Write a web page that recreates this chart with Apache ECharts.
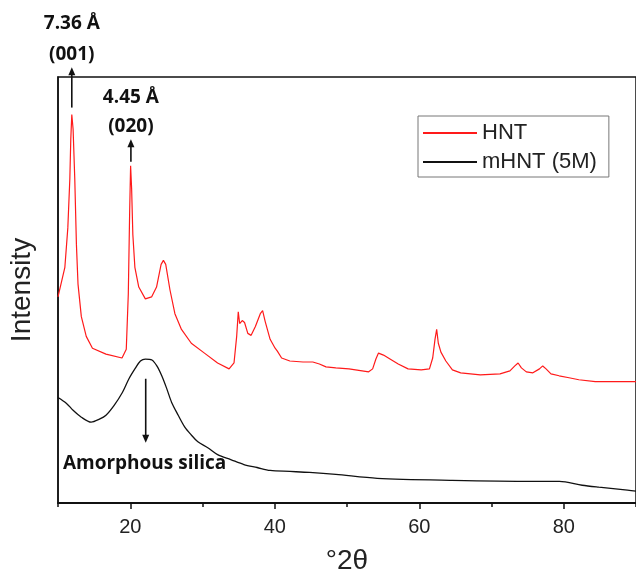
<!DOCTYPE html>
<html>
<head>
<meta charset="utf-8">
<script src="https://cdn.jsdelivr.net/npm/echarts@6/dist/echarts.min.js"></script>
<style>
html,body{margin:0;padding:0;background:#fff;}
#c{width:636px;height:580px;}
</style>
</head>
<body>
<div id="c"></div>
<script>
// 2θ (degrees) and intensity (arbitrary units)
var hntX = [10.0,10.95,11.36,11.64,11.77,11.91,12.09,12.32,12.55,12.77,13.23,13.91,14.77,16.64,18.86,19.45,19.73,19.92,20.05,20.19,20.36,20.64,21.18,22.09,22.95,23.64,24.27,24.59,24.91,25.50,26.18,27.09,28.45,30.27,32.09,33.68,34.36,34.73,34.95,35.14,35.50,35.82,36.27,36.73,37.32,38.00,38.32,38.68,39.36,40.05,40.36,40.95,42.09,43.91,45.27,46.18,47.09,48.45,50.27,53.00,53.55,54.00,54.36,55.05,55.95,57.09,58.45,60.27,61.41,61.86,62.18,62.41,62.64,63.00,63.68,64.59,65.73,68.45,71.18,72.55,73.23,73.68,74.14,74.82,75.73,76.64,77.09,77.55,78.23,79.36,80.73,82.09,84.36,88.82,90.0];
var hntY = [209,239,279,329,369,394,379,329,262,222,189,169,157,151,147,156,212,296,342,319,272,239,219,207,209,219,242,246,242,216,192,176,162,152,142,136,142,169,194,182,185,183,172,170,179,192,195,184,166,157,154,147,144,143,143,141,138,137,136,133,136,146,152,150,146,141,136,135,136,147,166,176,162,153,144,135,132,130,131,134,139,142,137,133,132,136,139,136,131,129,127,125,123,123,123];

var mhntX = [10.0,11.18,12.09,13.23,14.59,15.73,16.64,17.77,18.91,19.82,20.73,21.41,22.09,23.00,23.68,24.36,25.05,25.73,26.64,27.55,28.45,29.36,30.73,32.09,33.91,35.73,37.55,39.36,42.09,44.82,48.45,54.18,64.55,75.73,79.41,82.55,84.86,88.82,90.0];
var mhntY = [107,101,94,87,82,85,89,99,112,126,137,144,146,145,139,129,116,102,89,77,69,62,56,49,44,39,36,33,32,31,29,25,23,22,22,18,16,13,12];

var seriesNames = ['HNT', 'mHNT (5M)'];
var xTickMajor = [20, 40, 60, 80];
var xTickMinor = [10, 30, 50, 70, 90];
var xRange = [10, 90];
var yRange = [0, 432];

// annotation anchors in data units
var arrows = [
  {x: 11.91, from: 401, to: 442, dir: 'up'},
  {x: 20.09, from: 346, to: 369, dir: 'up'},
  {x: 22.14, from: 126, to: 61, dir: 'down'}
];
var labels = [
  {x: 11.91, y: 486, text: '7.36 Å', align: 'center'},
  {x: 11.91, y: 455, text: '(001)', align: 'center'},
  {x: 20.09, y: 411, text: '4.45 Å', align: 'center'},
  {x: 20.09, y: 382, text: '(020)', align: 'center'},
  {x: 10.68, y: 40, text: 'Amorphous silica', align: 'left'}
];

function pairs(xs, ys){ var out=[]; for(var i=0;i<xs.length;i++) out.push([xs[i], ys[i]]); return out; }

var chart = echarts.init(document.getElementById('c'), null, {renderer:'canvas'});
var font = 'Liberation Sans, Arial, sans-serif';
chart.setOption({
  animation: false,
  backgroundColor: '#fff',
  grid: {left: 58, top: 77, right: -9, bottom: 71, show: true, borderColor: '#111', borderWidth: 1.5, backgroundColor: 'transparent'},
  legend: {
    orient: 'vertical', left: 418, top: 116,
    borderColor: '#777', borderWidth: 1, padding: [6, 12, 4, 5],
    itemWidth: 54, itemHeight: 2, itemGap: 7, icon: 'rect',
    textStyle: {fontFamily: font, fontSize: 22, color: '#222'},
    data: seriesNames
  },
  xAxis: [{
    type: 'value', min: xRange[0], max: xRange[1],
    name: '°2θ', nameLocation: 'middle', nameGap: 44,
    nameTextStyle: {fontFamily: font, fontSize: 28, color: '#222'},
    axisLine: {show: true, lineStyle: {color: '#111', width: 2}},
    axisTick: {show: true, length: 6, customValues: xTickMajor, lineStyle: {color: '#111', width: 1.5}},
    axisLabel: {show: true, customValues: xTickMajor, margin: 14, fontFamily: font, fontSize: 20, color: '#222'},
    splitLine: {show: false}
  }, {
    type: 'value', min: xRange[0], max: xRange[1], position: 'bottom',
    axisLine: {show: false},
    axisTick: {show: true, length: 4, customValues: xTickMinor, lineStyle: {color: '#111', width: 1.5}},
    axisLabel: {show: false},
    splitLine: {show: false}
  }],
  yAxis: {
    type: 'value', min: yRange[0], max: yRange[1],
    name: 'Intensity', nameLocation: 'middle', nameGap: 22, nameRotate: 90,
    nameTextStyle: {fontFamily: font, fontSize: 28, color: '#222'},
    axisLine: {show: true, lineStyle: {color: '#111', width: 1.5}},
    axisTick: {show: false}, axisLabel: {show: false}, splitLine: {show: false}
  },
  series: [{
    name: seriesNames[0], type: 'line', data: pairs(hntX, hntY),
    symbol: 'none', lineStyle: {color: '#ff1a1a', width: 1.2}, itemStyle: {color: '#ff1a1a'}
  }, {
    name: seriesNames[1], type: 'line', data: pairs(mhntX, mhntY), smooth: 0.3,
    symbol: 'none', lineStyle: {color: '#111', width: 1.3}, itemStyle: {color: '#111'}
  }]
});

var g = [];
arrows.forEach(function(a){
  var p1 = chart.convertToPixel({gridIndex: 0}, [a.x, a.from]);
  var p2 = chart.convertToPixel({gridIndex: 0}, [a.x, a.to]);
  var s = a.dir === 'up' ? 1 : -1;
  g.push({type: 'line', shape: {x1: p1[0], y1: p1[1], x2: p2[0], y2: p2[1] + s*4}, style: {stroke: '#111', lineWidth: 1.6}, z: 100});
  g.push({type: 'polygon', shape: {points: [[p2[0], p2[1]], [p2[0]-3.5, p2[1] + s*8], [p2[0]+3.5, p2[1] + s*8]]}, style: {fill: '#111'}, z: 100});
});
labels.forEach(function(l){
  var p = chart.convertToPixel({gridIndex: 0}, [l.x, l.y]);
  g.push({type: 'text', x: p[0], y: p[1], style: {text: l.text, fontFamily: 'Open Sans, sans-serif', fontWeight: 'bold', fontSize: 19, fill: '#111', align: l.align, verticalAlign: 'middle'}, z: 100});
});
chart.setOption({graphic: g});
</script>
</body>
</html>
